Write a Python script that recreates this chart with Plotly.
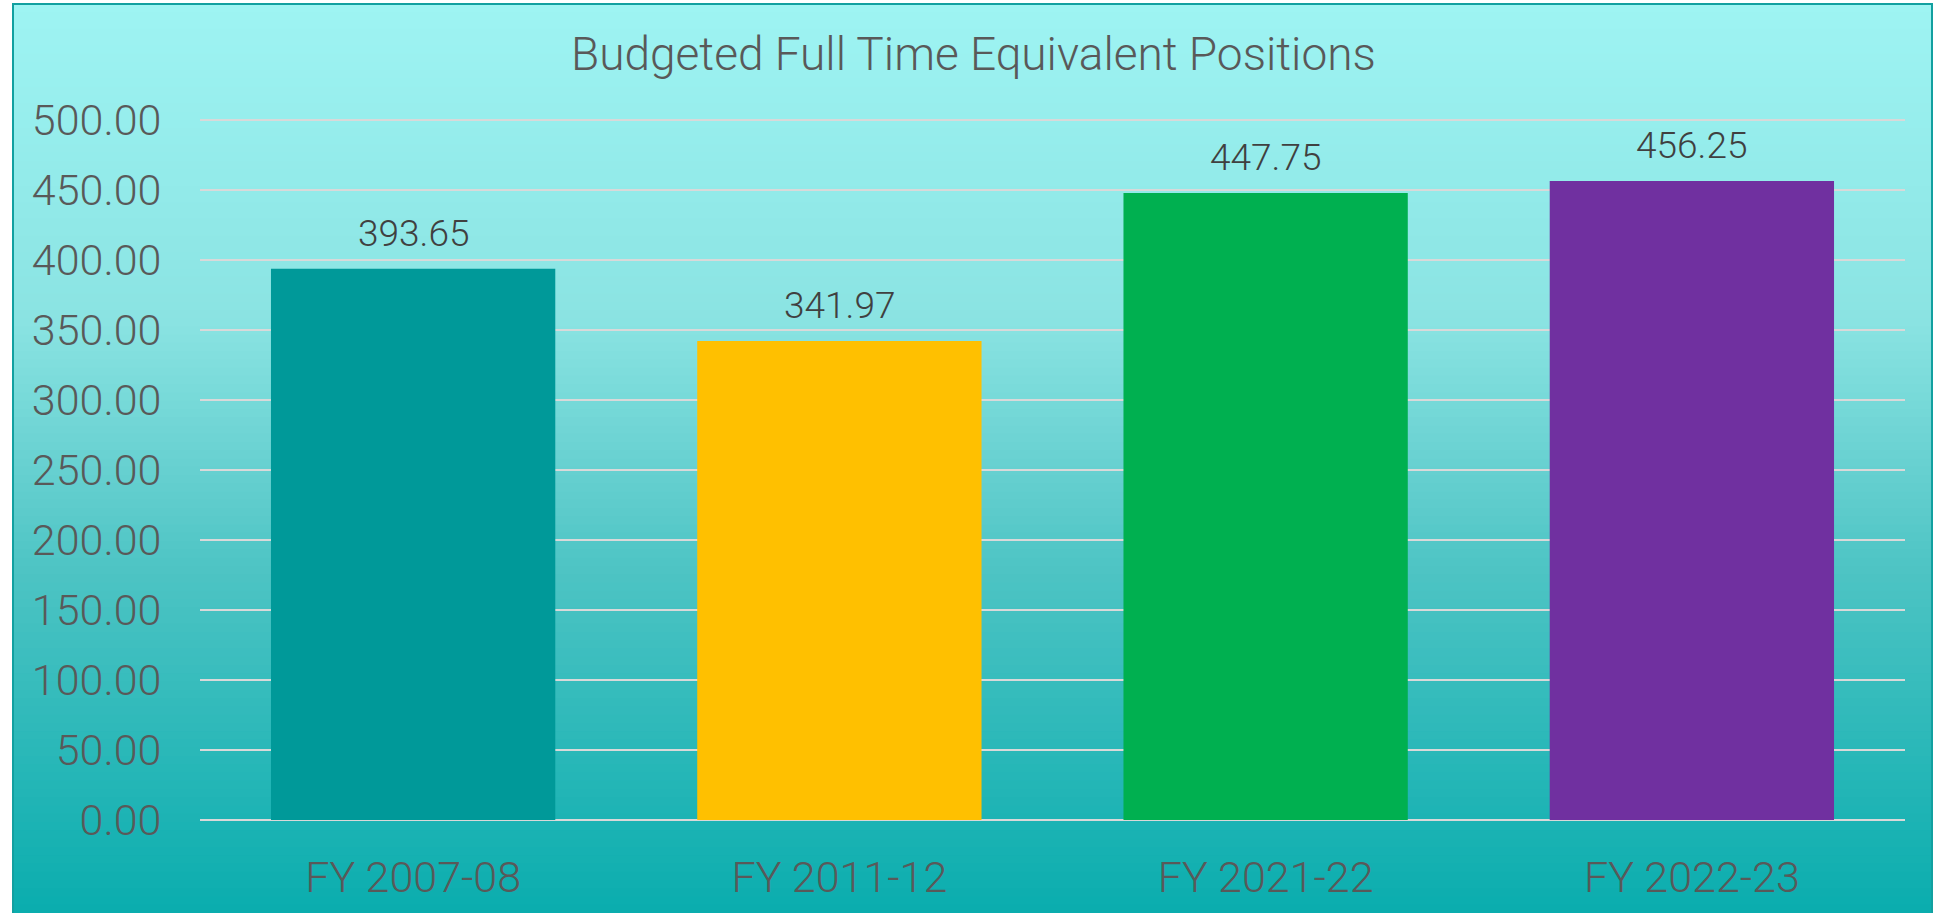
import plotly.graph_objects as go

categories = ["FY 2007-08", "FY 2011-12", "FY 2021-22", "FY 2022-23"]
values = [393.65, 341.97, 447.75, 456.25]
bar_colors = ["#009999", "#FFC000", "#00B050", "#7030A0"]
y_ticks = [0, 50, 100, 150, 200, 250, 300, 350, 400, 450, 500]
title_text = "Budgeted Full Time Equivalent Positions"

W, H = 1934, 913
L, R, T, B = 200, 29, 117, 93
PW, PH = W - L - R, H - T - B

def px_x(p):
    return (p - L) / PW

def px_y(p):
    return (H - B - p) / PH

# gradient background bands
stops = [(0.0, (0x9E, 0xF4, 0xF3)), (0.35, (0x8A, 0xE3, 0xE2)), (0.62, (0x4E, 0xC4, 0xC4)), (1.0, (0x0A, 0xAD, 0xAE))]

def grad(t):
    for (t0, c0), (t1, c1) in zip(stops[:-1], stops[1:]):
        if t <= t1:
            f = (t - t0) / (t1 - t0)
            return "rgb(%d,%d,%d)" % tuple(round(a + (b - a) * f) for a, b in zip(c0, c1))
    return "rgb(%d,%d,%d)" % stops[-1][1]

shapes = []
top_px, bot_px = 4, 913
n = 110
step = (bot_px - top_px) / n
for i in range(n):
    y0 = top_px + i * step
    y1 = y0 + step + 1
    shapes.append(dict(type="rect", xref="paper", yref="paper", layer="below",
                       x0=px_x(13), x1=px_x(1933), y0=px_y(min(y1, 913)), y1=px_y(y0),
                       line=dict(width=0), fillcolor=grad((y0 + step / 2 - top_px) / (bot_px - top_px))))
# border
shapes.append(dict(type="rect", xref="paper", yref="paper", layer="above",
                   x0=px_x(13), x1=px_x(1932), y0=px_y(915), y1=px_y(4),
                   line=dict(width=2, color="#12A0A0"), fillcolor="rgba(0,0,0,0)"))

fig = go.Figure()
fig.add_trace(go.Bar(x=categories, y=values, marker=dict(color=bar_colors, line=dict(width=0)),
                     width=0.667, hoverinfo="skip"))

annotations = [dict(x=c, y=v, xref="x", yref="y", text="%.2f" % v, showarrow=False,
                    yanchor="bottom", yshift=12,
                    font=dict(family="Roboto", size=37, color="#404040", weight=300))
               for c, v in zip(categories, values)]
annotations.append(dict(x=px_x(973), y=px_y(54), xref="paper", yref="paper", text=title_text,
                        showarrow=False, xanchor="center", yanchor="middle",
                        font=dict(family="Roboto", size=46, color="#595959", weight=300)))

fig.update_layout(
    width=W, height=H,
    margin=dict(l=L, r=R, t=T, b=B, pad=0),
    paper_bgcolor="white", plot_bgcolor="rgba(0,0,0,0)",
    showlegend=False, shapes=shapes, annotations=annotations,
    bargap=0.333,
    xaxis=dict(showgrid=False, zeroline=False, showline=False, ticks="",
               ticklabelstandoff=28,
               tickfont=dict(family="Roboto", size=43, color="#595959", weight=300)),
    yaxis=dict(range=[0, 502], tickvals=y_ticks, ticktext=["%.2f" % t for t in y_ticks],
               showgrid=True, gridcolor="#D9D9D9", gridwidth=2,
               zeroline=True, zerolinecolor="#D9D9D9", zerolinewidth=2, showline=False,
               ticks="outside", ticklen=29, tickcolor="rgba(0,0,0,0)",
               tickfont=dict(family="Roboto", size=43, color="#595959", weight=300)),
)

fig.write_html("out.html", config={"displayModeBar": False},
               post_script="document.body.style.margin='0';")
